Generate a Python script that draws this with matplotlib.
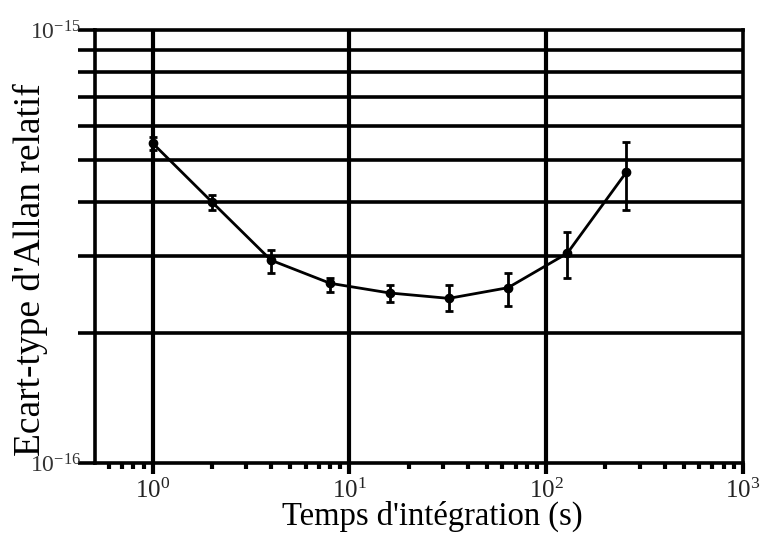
import matplotlib
matplotlib.use("Agg")
import matplotlib.pyplot as plt
from matplotlib.ticker import LogLocator, FixedLocator, NullFormatter
import numpy as np

plt.rcParams['font.family'] = ['Liberation Serif', 'DejaVu Serif']
plt.rcParams['mathtext.fontset'] = 'custom'
plt.rcParams['mathtext.rm'] = 'Liberation Serif'
plt.rcParams['mathtext.it'] = 'Liberation Serif'

# integration times (s) and relative Allan deviation (x1e-16)
tau = [1, 2, 4, 8, 16, 32, 64, 128, 256]
sigma = [5.48, 4.01, 2.94, 2.60, 2.47, 2.40, 2.54, 3.05, 4.70]
err_hi = [5.66, 4.16, 3.10, 2.67, 2.58, 2.58, 2.75, 3.42, 5.51]
err_lo = [5.28, 3.84, 2.75, 2.48, 2.35, 2.24, 2.30, 2.67, 3.84]

x_ticks = [1, 10, 100, 1000]
x_labels = [r'$10^{0}$', r'$10^{1}$', r'$10^{2}$', r'$10^{3}$']
y_ticks = [1e-16, 1e-15]
y_labels = [r'$10^{-16}$', r'$10^{-15}$']

sig = np.array(sigma) * 1e-16
lo = sig - np.array(err_lo) * 1e-16
hi = np.array(err_hi) * 1e-16 - sig

fig = plt.figure(figsize=(7.61, 5.43), dpi=100)
ax = fig.add_axes([0.1248, 0.1473, 0.8515, 0.7975])
ax.set_xscale('log')
ax.set_yscale('log')
ax.set_xlim(0.51, 1000)
ax.set_ylim(1e-16, 1e-15)

# grid: decades vertically, 2..9 horizontally
for xv in x_ticks[:-1]:
    ax.axvline(xv, color='black', lw=3, zorder=1)
for m in range(2, 10):
    ax.axhline(m * 1e-16, color='black', lw=2.6, zorder=1)

ax.errorbar(tau, sig, yerr=[lo, hi], fmt='o-', color='black', ms=6,
            lw=2, elinewidth=2, capsize=3, capthick=2, zorder=3)

for s in ax.spines.values():
    s.set_linewidth(2.6)

ax.xaxis.set_major_locator(FixedLocator(x_ticks))
ax.set_xticklabels(x_labels, fontsize=18, color='#222222')
ax.xaxis.set_minor_locator(LogLocator(base=10, subs=np.arange(2, 10), numticks=20))
ax.xaxis.set_minor_formatter(NullFormatter())
ax.yaxis.set_major_locator(FixedLocator(y_ticks))
ax.set_yticklabels(y_labels, fontsize=17, color='#333333')
ax.yaxis.set_minor_locator(FixedLocator([m * 1e-16 for m in range(2, 10)]))
ax.yaxis.set_minor_formatter(NullFormatter())

ax.tick_params(axis='x', which='major', direction='out', length=8, width=3, pad=3)
ax.tick_params(axis='x', which='minor', direction='out', length=4, width=3)
ax.tick_params(axis='y', which='major', direction='out', length=12, width=2.6, pad=-2)
ax.tick_params(axis='y', which='minor', direction='out', length=12, width=2.6)

ax.set_xlabel("Temps d'intégration (s)", fontsize=23.5)
ax.xaxis.set_label_coords(0.52, -0.088)
ax.set_ylabel("Ecart-type d'Allan relatif", fontsize=27)
ax.yaxis.set_label_coords(-0.072, 0.446)

fig.savefig('out.png', dpi=100)
